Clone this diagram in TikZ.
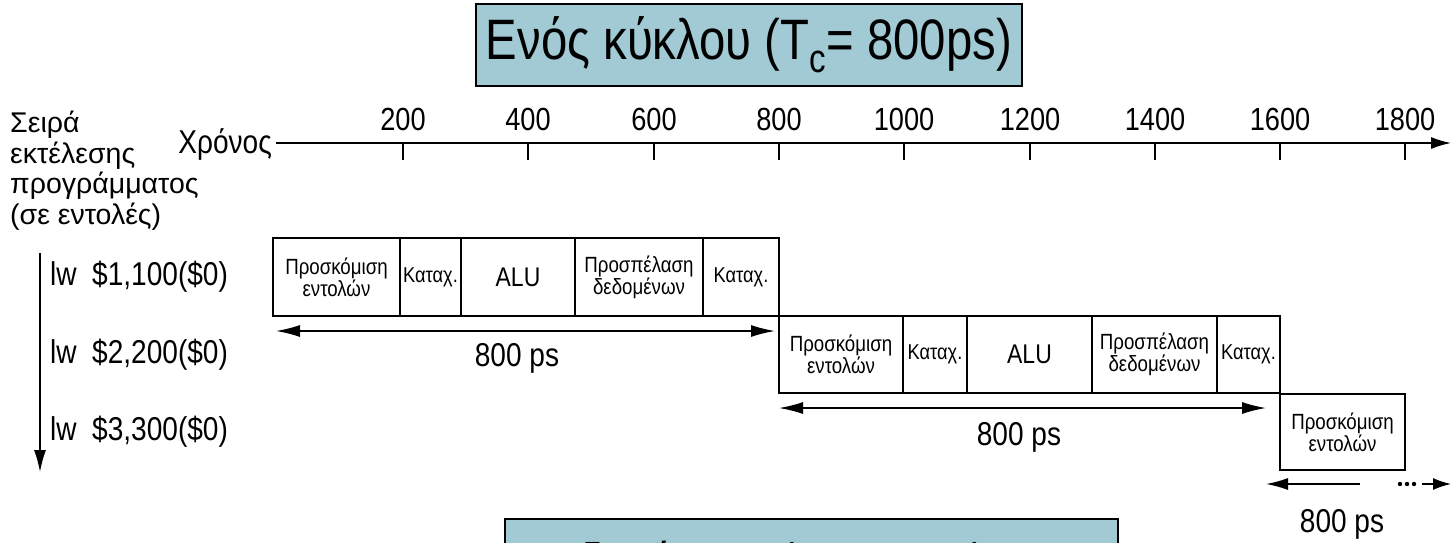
\documentclass[tikz,border=0pt]{standalone}
\usepackage{fontspec}
\setmainfont{Liberation Sans}
\newfontfamily\condfont[FakeStretch=0.85]{Liberation Sans}
\newfontfamily\titlefont[FakeStretch=0.83]{Liberation Sans}
\usetikzlibrary{arrows.meta}
\definecolor{boxblue}{RGB}{161,202,212}
\newcommand{\pxsize}[2]{\fontsize{#1}{#2}\selectfont}
\begin{document}
\begin{tikzpicture}[x=1pt,y=-1pt,
  titlebox/.style={draw=black, line width=1.8pt, fill=boxblue, inner sep=0pt, outer sep=0pt},
  stagebox/.style={draw=black, line width=1.5pt, inner sep=0pt, outer sep=0pt, align=center, anchor=north west, font=\condfont\pxsize{22}{22}},
  bigstage/.style={stagebox, font=\condfont\pxsize{27}{27}},
  regstage/.style={stagebox, font=\condfont\pxsize{21.5}{21.5}},
  dimline/.style={line width=1.5pt, {Latex[length=24pt,width=12pt]}-{Latex[length=24pt,width=12pt]}},
  oneway/.style={line width=1.5pt, -{Latex[length=22pt,width=12pt]}},
  tick/.style={line width=1.5pt},
  ticklabel/.style={anchor=base, inner sep=0pt, font=\condfont\pxsize{32}{32}},
  dimlabel/.style={anchor=base, inner sep=0pt, font=\condfont\pxsize{33}{33}},
  instr/.style={anchor=base west, inner sep=0pt, font=\condfont\pxsize{33}{33}}
]
\useasboundingbox (0,0) rectangle (1451,542);

% title
\node[titlebox, minimum width=546, minimum height=82, font=\titlefont\pxsize{57}{57}] (single) at (749,45) {Ενός κύκλου (T\textsubscript{c}= 800ps)};

% left label
\node[anchor=north west, inner sep=0pt, align=left, font=\pxsize{28.5}{30.5}] (order) at (10,111) {Σειρά\\εκτέλεσης\\προγράμματος\\(σε εντολές)};

% time axis
\node[anchor=base east, inner sep=0pt, font=\condfont\pxsize{33}{33}] (time) at (272,153) {Χρόνος};
\coordinate (axs) at (276,143);
\coordinate (axe) at (1451,143);
\draw[line width=1.5pt, -{Latex[length=20pt,width=12pt]}] (axs) -- (axe);
\foreach \xx/\lab in {403/200,528/400,654/600,779/800,904/1000,1030/1200,1155/1400,1280/1600,1405/1800}{
  \draw[tick] (\xx,143) -- (\xx,160);
  \node[ticklabel] (t\lab) at (\xx,130) {\lab};
}

% vertical arrow
\coordinate (vs) at (40,253);
\coordinate (ve) at (40,472);
\draw[oneway] (vs) -- (ve);

% instructions
\node[instr] (i1) at (50,285) {lw\ \ \$1,100(\$0)};
\node[instr] (i2) at (50,363) {lw\ \ \$2,200(\$0)};
\node[instr] (i3) at (50,440) {lw\ \ \$3,300(\$0)};

% row 1
\node[stagebox, minimum width=127, minimum height=78] (a1) at (273,238) {Προσκόμιση\\εντολών};
\node[regstage, minimum width=61, minimum height=78] (a2) at (400,238) {Καταχ.};
\node[bigstage, minimum width=114, minimum height=78] (a3) at (461,238) {ALU};
\node[stagebox, minimum width=128, minimum height=78] (a4) at (575,238) {Προσπέλαση\\δεδομένων};
\node[regstage, minimum width=76, minimum height=78] (a5) at (703,238) {Καταχ.};

% row 2
\node[stagebox, minimum width=124, minimum height=77] (b1) at (779,316) {Προσκόμιση\\εντολών};
\node[regstage, minimum width=64, minimum height=77] (b2) at (903,316) {Καταχ.};
\node[bigstage, minimum width=125, minimum height=77] (b3) at (967,316) {ALU};
\node[stagebox, minimum width=125, minimum height=77] (b4) at (1092,316) {Προσπέλαση\\δεδομένων};
\node[regstage, minimum width=63, minimum height=77] (b5) at (1217,316) {Καταχ.};

% row 3
\node[stagebox, minimum width=125, minimum height=76] (c1) at (1280,394) {Προσκόμιση\\εντολών};

% durations
\coordinate (d1l) at (276,331);
\coordinate (d1r) at (775,331);
\draw[dimline] (d1l) -- (d1r);
\node[dimlabel] (l1) at (517,366) {800 ps};

\coordinate (d2l) at (779,408);
\coordinate (d2r) at (1266,408);
\draw[dimline] (d2l) -- (d2r);
\node[dimlabel] (l2) at (1019,445) {800 ps};

\coordinate (d3a) at (1360,484);
\coordinate (d3b) at (1266,484);
\draw[oneway] (d3a) -- (d3b);
\foreach \dx in {1400,1407,1414}{\fill (\dx,484) circle (2.2);}
\coordinate (d3c) at (1422,484);
\coordinate (d3d) at (1451,484);
\draw[line width=1.5pt, -{Latex[length=18pt,width=12pt]}] (d3c) -- (d3d);
\node[dimlabel] (l3) at (1342,532) {800 ps};

% bottom box (cut by the frame, as in the reference)
\begin{scope}
\clip (0,0) rectangle (1451,542);
\node[titlebox, minimum width=613, minimum height=80, anchor=north west] (pipe) at (505,519) {};
\node[anchor=base west, inner sep=0pt, font=\titlefont\pxsize{47}{47}] (pipetext) at (521,576) {Με διοχέτευση (T\textsubscript{c}= 200ps)};
\end{scope}
\end{tikzpicture}
\end{document}
